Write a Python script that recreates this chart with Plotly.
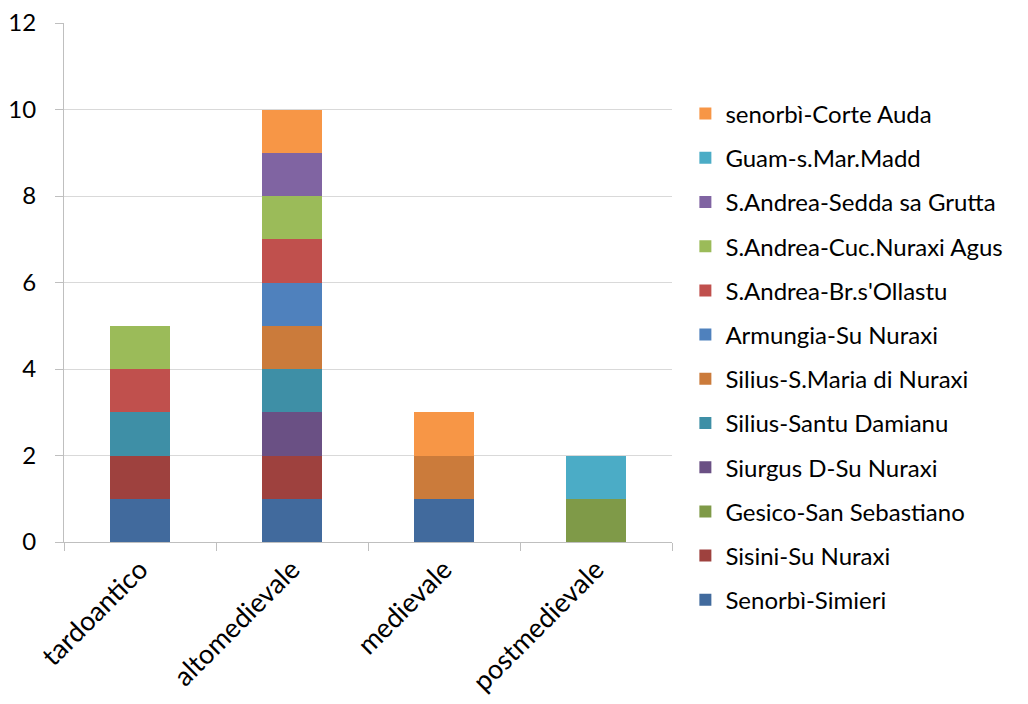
import plotly.graph_objects as go

categories = ["tardoantico", "altomedievale", "medievale", "postmedievale"]

series_names = [
    "Senorbì-Simieri",
    "Sisini-Su Nuraxi",
    "Gesico-San Sebastiano",
    "Siurgus D-Su Nuraxi",
    "Silius-Santu Damianu",
    "Silius-S.Maria di Nuraxi",
    "Armungia-Su Nuraxi",
    "S.Andrea-Br.s'Ollastu",
    "S.Andrea-Cuc.Nuraxi Agus",
    "S.Andrea-Sedda sa Grutta",
    "Guam-s.Mar.Madd",
    "senorbì-Corte Auda",
]

senorbi_simieri = [1, 1, 1, 0]
sisini_su_nuraxi = [1, 1, 0, 0]
gesico_san_sebastiano = [0, 0, 0, 1]
siurgus_su_nuraxi = [0, 1, 0, 0]
silius_santu_damianu = [1, 1, 0, 0]
silius_s_maria = [0, 1, 1, 0]
armungia_su_nuraxi = [0, 1, 0, 0]
s_andrea_br_ollastu = [1, 1, 0, 0]
s_andrea_cuc_nuraxi = [1, 1, 0, 0]
s_andrea_sedda = [0, 1, 0, 0]
guam_s_mar_madd = [0, 0, 0, 1]
senorbi_corte_auda = [0, 1, 1, 0]

series_values = [
    senorbi_simieri, sisini_su_nuraxi, gesico_san_sebastiano, siurgus_su_nuraxi,
    silius_santu_damianu, silius_s_maria, armungia_su_nuraxi, s_andrea_br_ollastu,
    s_andrea_cuc_nuraxi, s_andrea_sedda, guam_s_mar_madd, senorbi_corte_auda,
]

colors = [
    "#416A9D", "#9E413E", "#7F9A48", "#6A5084", "#3E8FA6", "#CB7B3B",
    "#4F81BD", "#C0504D", "#9BBB59", "#8064A2", "#4BACC6", "#F79646",
]

y_ticks = [0, 2, 4, 6, 8, 10, 12]

FONT = "Lato, 'Open Sans', sans-serif"

fig = go.Figure()
n = len(series_names)
for i, (name, vals, col) in enumerate(zip(series_names, series_values, colors)):
    fig.add_trace(go.Bar(
        x=categories, y=vals, name=name,
        marker=dict(color=col, line=dict(width=0)),
        legendgroup=f"g{i}",
        legendrank=n - i,
    ))

fig.update_layout(
    barmode="stack",
    bargap=0.605,
    width=1028, height=704,
    margin=dict(l=64, r=356, t=23, b=162),
    plot_bgcolor="white", paper_bgcolor="white",
    font=dict(family=FONT, color="#000000"),
    showlegend=True,
    legend=dict(
        x=1.022, xanchor="left", y=0.868, yanchor="top",
        traceorder="grouped",
        tracegroupgap=10,
        maxheight=690,
        font=dict(size=24, family=FONT, color="#000000"),
        bgcolor="rgba(0,0,0,0)",
    ),
    xaxis=dict(
        type="category",
        automargin=False,
        showline=True, linecolor="#BFBFBF", linewidth=1,
        ticks="outside", tickson="boundaries", ticklen=8, tickcolor="#BFBFBF",
        tickangle=-45,
        tickfont=dict(size=27, family=FONT),
        showgrid=False,
    ),
    yaxis=dict(
        range=[0, 12], tickvals=y_ticks,
        automargin=False,
        showline=True, linecolor="#BFBFBF", linewidth=1,
        ticks="outside", ticklen=8, tickcolor="#BFBFBF",
        showgrid=True, gridcolor="#D9D9D9", gridwidth=1,
        zeroline=False,
        tickfont=dict(size=24, family=FONT),
        ticklabelstandoff=14,
    ),
)

fig.write_html("out.html")
